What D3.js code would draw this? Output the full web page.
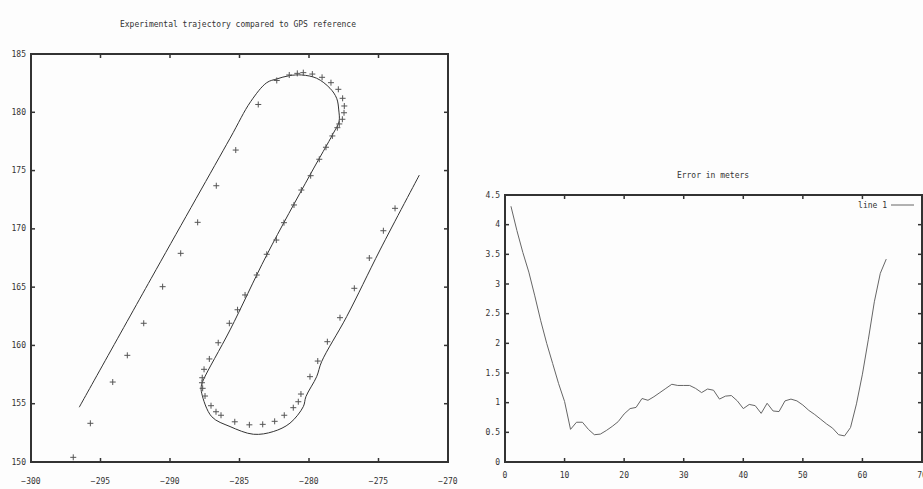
<!DOCTYPE html>
<html>
<head>
<meta charset="utf-8">
<script src="https://cdn.jsdelivr.net/npm/d3@7"></script>
<style>
  body { margin: 0; background: #fdfdfd; }
  svg { display: block; }
  text { font-family: "DejaVu Sans Mono", monospace; font-size: 8px; fill: #333; }
</style>
</head>
<body>
<div id="chart"></div>
<script>
// estimated trajectory (x, y) in metres
const trajectory = [
  [-296.53, 154.7], [-291.0, 166.5], [-285.68, 177.77], [-284.2, 180.91],
  [-283.04, 182.54], [-282.32, 182.86], [-281.42, 183.14], [-280.53, 183.2],
  [-279.45, 182.92], [-278.49, 182.06], [-278.01, 181.2], [-277.86, 180.2],
  [-277.84, 179.19], [-278.25, 178.2], [-279.93, 174.62], [-283.04, 167.76],
  [-285.68, 161.33], [-287.6, 157.04], [-287.75, 156.5], [-287.72, 155.9],
  [-287.0, 153.89], [-285.68, 153.04], [-284.0, 152.38], [-282.57, 152.61],
  [-281.37, 153.33], [-280.41, 154.75], [-280.22, 155.61], [-279.45, 157.32],
  [-279.09, 158.61], [-277.29, 162.47], [-274.89, 168.19], [-272.06, 174.62]
];

// GPS reference points
const gpsX = [
  -296.96, -295.73, -294.12, -293.07, -291.89, -290.53, -289.23, -288.01,
  -286.67, -285.27, -283.65, -282.32, -281.42, -280.84, -280.41, -279.76,
  -279.06, -278.42, -277.89, -277.58, -277.46, -277.48, -277.60, -277.82,
  -277.96, -278.32, -278.78, -279.26, -279.88, -280.55, -281.08, -281.80,
  -282.35, -283.04, -283.76, -284.60, -285.14, -285.73, -286.53, -287.17,
  -287.55, -287.68, -287.70, -287.65, -287.48, -287.05, -286.69, -286.33,
  -285.34, -284.29, -283.33, -282.47, -281.78, -281.13, -280.77, -280.58,
  -279.93, -279.37, -278.68, -277.77, -276.74, -275.66, -274.65, -273.81
];
const gpsY = [
  150.40, 153.32, 156.86, 159.15, 161.90, 165.04, 167.90, 170.56,
  173.70, 176.76, 180.67, 182.73, 183.20, 183.34, 183.40, 183.28,
  183.00, 182.54, 181.97, 181.20, 180.54, 179.96, 179.40, 179.00,
  178.68, 177.97, 177.00, 175.97, 174.56, 173.33, 172.05, 170.53,
  169.04, 167.82, 166.04, 164.33, 163.06, 161.90, 160.23, 158.84,
  157.95, 157.23, 156.80, 156.32, 155.66, 154.83, 154.31, 154.01,
  153.45, 153.19, 153.23, 153.49, 154.01, 154.66, 155.17, 155.83,
  157.32, 158.66, 160.32, 162.38, 164.90, 167.50, 169.84, 171.76
];

// error in meters, sample 1..64
const errorIndex = d3.range(1, 65);
const errorValues = [
  4.31, 3.9, 3.53, 3.2, 2.8, 2.38, 2.0, 1.66, 1.32, 1.02,
  0.55, 0.67, 0.67, 0.55, 0.46, 0.47, 0.53, 0.60, 0.68, 0.81,
  0.90, 0.92, 1.07, 1.04, 1.10, 1.17, 1.24, 1.31, 1.29, 1.29,
  1.29, 1.24, 1.17, 1.23, 1.21, 1.06, 1.11, 1.12, 1.03, 0.90,
  0.97, 0.95, 0.82, 0.99, 0.86, 0.85, 1.03, 1.06, 1.03, 0.96,
  0.87, 0.80, 0.72, 0.64, 0.57, 0.46, 0.44, 0.58, 0.98, 1.48,
  2.07, 2.7, 3.18, 3.42
];

const leftXTicks = [-300, -295, -290, -285, -280, -275, -270];
const leftYTicks = [150, 155, 160, 165, 170, 175, 180, 185];
const rightXTicks = [0, 10, 20, 30, 40, 50, 60, 70];
const rightYTicks = [0, 0.5, 1, 1.5, 2, 2.5, 3, 3.5, 4, 4.5];

const width = 923, height = 489;
const frameColor = "#333";
const tickLen = 4;

const svg = d3.select("#chart").append("svg")
  .attr("width", width)
  .attr("height", height);

svg.append("rect").attr("width", width).attr("height", height).attr("fill", "#fdfdfd");

function drawFrame(x, y, xTicks, yTicks, xLabelY, yLabelX, fmt) {
  const [x0, x1] = x.range();
  const [y0, y1] = y.range(); // y0 bottom, y1 top
  const g = svg.append("g");

  xTicks.forEach((t) => {
    const px = x(t);
    g.append("line").attr("x1", px).attr("x2", px).attr("y1", y0).attr("y2", y0 - tickLen)
      .attr("stroke", frameColor).attr("stroke-width", 1.5);
    g.append("line").attr("x1", px).attr("x2", px).attr("y1", y1).attr("y2", y1 + tickLen)
      .attr("stroke", frameColor).attr("stroke-width", 1.5);
    g.append("text").attr("x", px).attr("y", xLabelY)
      .attr("text-anchor", "middle").attr("dominant-baseline", "middle")
      .text(fmt(t));
  });

  yTicks.forEach((t) => {
    const py = y(t);
    g.append("line").attr("x1", x0).attr("x2", x0 + tickLen).attr("y1", py).attr("y2", py)
      .attr("stroke", frameColor).attr("stroke-width", 1.5);
    g.append("line").attr("x1", x1).attr("x2", x1 - tickLen).attr("y1", py).attr("y2", py)
      .attr("stroke", frameColor).attr("stroke-width", 1.5);
    g.append("text").attr("x", yLabelX).attr("y", py)
      .attr("text-anchor", "end").attr("dominant-baseline", "middle")
      .text(fmt(t));
  });

  g.append("rect")
    .attr("x", x0).attr("y", y1)
    .attr("width", x1 - x0).attr("height", y0 - y1)
    .attr("fill", "none")
    .attr("stroke", frameColor)
    .attr("stroke-width", 2);
}

// ---- left: trajectory vs GPS ----
const xL = d3.scaleLinear().domain([-300, -270]).range([31, 448]);
const yL = d3.scaleLinear().domain([150, 185]).range([462, 54]);

svg.append("text")
  .attr("x", 238).attr("y", 24)
  .attr("text-anchor", "middle").attr("dominant-baseline", "middle")
  .text("Experimental trajectory compared to GPS reference");

svg.append("path")
  .datum(trajectory)
  .attr("fill", "none")
  .attr("stroke", "#333")
  .attr("stroke-width", 1)
  .attr("d", d3.line().curve(d3.curveCatmullRom.alpha(0.5))
    .x((d) => xL(d[0])).y((d) => yL(d[1])));

const gps = gpsX.map((x, i) => ({ x, y: gpsY[i] }));
svg.append("g").selectAll("path")
  .data(gps)
  .join("path")
  .attr("d", (d) => {
    const px = xL(d.x), py = yL(d.y), s = 3;
    return `M${px - s},${py}H${px + s}M${px},${py - s}V${py + s}`;
  })
  .attr("stroke", "#555")
  .attr("stroke-width", 1)
  .attr("fill", "none");

drawFrame(xL, yL, leftXTicks, leftYTicks, 481, 26, (d) => d3.format("d")(d));

// ---- right: error in meters ----
const xR = d3.scaleLinear().domain([0, 70]).range([505, 922]);
const yR = d3.scaleLinear().domain([0, 4.5]).range([462, 195]);

svg.append("text")
  .attr("x", 713).attr("y", 175)
  .attr("text-anchor", "middle").attr("dominant-baseline", "middle")
  .text("Error in meters");

svg.append("path")
  .datum(errorIndex.map((x, i) => [x, errorValues[i]]))
  .attr("fill", "none")
  .attr("stroke", "#666")
  .attr("stroke-width", 1)
  .attr("d", d3.line().x((d) => xR(d[0])).y((d) => yR(d[1])));

drawFrame(xR, yR, rightXTicks, rightYTicks, 475, 500, (d) => String(d));

// legend
svg.append("text")
  .attr("x", 887).attr("y", 205)
  .attr("text-anchor", "end").attr("dominant-baseline", "middle")
  .text("line 1");
svg.append("line")
  .attr("x1", 891).attr("x2", 914).attr("y1", 205).attr("y2", 205)
  .attr("stroke", "#666").attr("stroke-width", 1);
</script>
</body>
</html>
